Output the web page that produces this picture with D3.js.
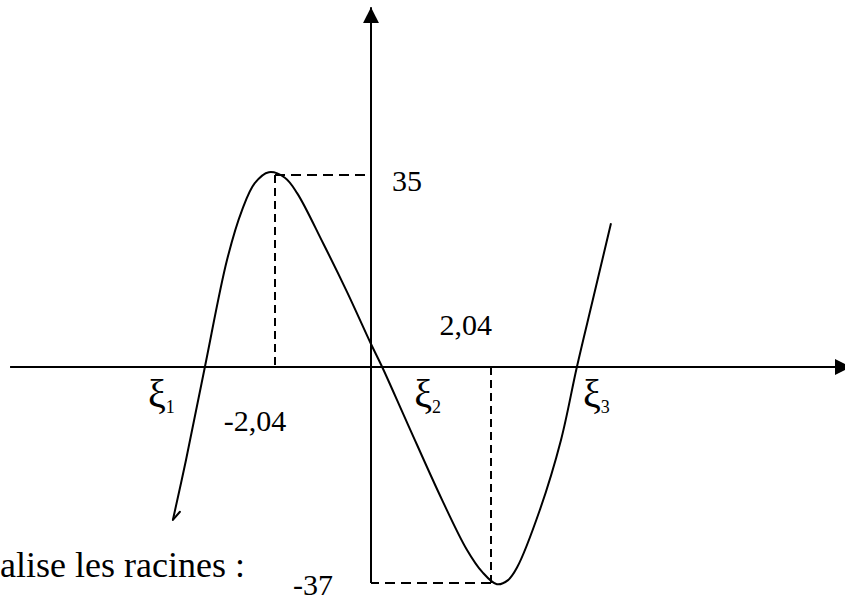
<!DOCTYPE html>
<html>
<head>
<meta charset="utf-8">
<script src="https://cdn.jsdelivr.net/npm/d3@7"></script>
<style>
  body { margin: 0; background: #fff; }
  svg text { font-family: "Liberation Serif", "Times New Roman", serif; fill: #000; }
</style>
</head>
<body>
<div id="chart"></div>
<script>
// curve (x, f(x))
const curveX = [-4.21, -3.93, -3.53, -3.06, -2.74, -2.47, -2.17, -1.83, -1.57, -1.02, -0.51, 0, 0.19, 0.63, 1.21, 1.63, 1.89, 2.14, 2.33, 2.48, 2.87, 3.23, 3.50, 3.77, 4.08];
const curveY = [-26.2, -15.9, 0, 19.5, 28.6, 33.5, 35.5, 34.5, 31.7, 22.6, 13.7, 4.2, 0, -9.9, -22.8, -31.3, -35.1, -37.2, -36.5, -34.4, -24.5, -12.5, 0, 12.2, 26.2];

// little pen hook at the lower end
const hookX = [-4.21, -4.06];
const hookY = [-26.2, -24.8];

// extrema
const extX = [-2.04, 2.04];
const extY = [35, -37];
const extLabels = ["35", "-37"];
const extXLabels = ["-2,04", "2,04"];

// roots
const rootX = [-3.53, 0.19, 3.50];
const rootNames = ["1", "2", "3"];

const caption = "alise les racines :";

const width = 845, height = 600;

// the sketch is not to scale, so each half axis has its own unit
const x = d3.scaleLinear().domain([-2.04, 0, 2.04]).range([275, 371, 491]);
const y = d3.scaleLinear().domain([-37, 0, 35]).range([583, 367, 175]);

const xDomain = [-7.67, 8.16];
const yDomain = [-37, 65.6];

const svg = d3.select("#chart")
  .append("svg")
  .attr("width", width)
  .attr("height", height);

// arrow heads
const defs = svg.append("defs");
defs.append("marker")
  .attr("id", "arrow")
  .attr("viewBox", "0 0 16 16")
  .attr("refX", 16)
  .attr("refY", 8)
  .attr("markerWidth", 16)
  .attr("markerHeight", 16)
  .attr("markerUnits", "userSpaceOnUse")
  .attr("orient", "auto")
  .append("path")
  .attr("d", "M0,0L16,8L0,16Z")
  .attr("fill", "#000");

// x axis
svg.append("line")
  .attr("x1", x(xDomain[0])).attr("x2", x(xDomain[1]))
  .attr("y1", y(0)).attr("y2", y(0))
  .attr("stroke", "#000").attr("stroke-width", 2)
  .attr("marker-end", "url(#arrow)");

// y axis
svg.append("line")
  .attr("x1", x(0)).attr("x2", x(0))
  .attr("y1", y(yDomain[0])).attr("y2", y(yDomain[1]))
  .attr("stroke", "#000").attr("stroke-width", 2)
  .attr("marker-end", "url(#arrow)");

// dashed guides to the extrema
extX.forEach((vx, i) => {
  const vy = extY[i];
  svg.append("line")
    .attr("x1", x(vx)).attr("x2", x(vx))
    .attr("y1", y(vy)).attr("y2", y(0))
    .attr("stroke", "#000").attr("stroke-width", 2)
    .attr("stroke-dasharray", "8,5");
  svg.append("line")
    .attr("x1", x(vx)).attr("x2", x(0))
    .attr("y1", y(vy)).attr("y2", y(vy))
    .attr("stroke", "#000").attr("stroke-width", 2)
    .attr("stroke-dasharray", "10,6");
});

// the curve
const line = d3.line()
  .x(d => x(d[0]))
  .y(d => y(d[1]));

svg.append("path")
  .attr("d", line.curve(d3.curveCatmullRom.alpha(0.5))(curveX.map((d, i) => [d, curveY[i]])))
  .attr("fill", "none")
  .attr("stroke", "#000")
  .attr("stroke-width", 2);

svg.append("path")
  .attr("d", line.curve(d3.curveLinear)(hookX.map((d, i) => [d, hookY[i]])))
  .attr("fill", "none")
  .attr("stroke", "#000")
  .attr("stroke-width", 2)
  .attr("stroke-linecap", "round");

// value labels
svg.append("text")
  .attr("x", x(0) + 21).attr("y", y(extY[0]) + 16)
  .attr("font-size", 30)
  .text(extLabels[0]);

svg.append("text")
  .attr("x", x(0) - 38).attr("y", y(extY[1]) + 12)
  .attr("text-anchor", "end")
  .attr("font-size", 30)
  .text(extLabels[1]);

svg.append("text")
  .attr("x", x(extX[0]) - 20).attr("y", y(0) + 64)
  .attr("text-anchor", "middle")
  .attr("font-size", 30)
  .text(extXLabels[0]);

svg.append("text")
  .attr("x", x(extX[1]) + 1).attr("y", y(0) - 32)
  .attr("text-anchor", "end")
  .attr("font-size", 30)
  .text(extXLabels[1]);

// root labels
const rootOffset = [-57, 32, 6];
rootX.forEach((r, i) => {
  const t = svg.append("text")
    .attr("x", x(r) + rootOffset[i])
    .attr("y", y(0) + 40)
    .attr("font-size", 40);
  t.append("tspan").text("ξ");
  t.append("tspan")
    .attr("font-size", 18)
    .attr("dy", 6)
    .text(rootNames[i]);
});

svg.append("text")
  .attr("x", 0).attr("y", 577)
  .attr("font-size", 36)
  .text(caption);
</script>
</body>
</html>
